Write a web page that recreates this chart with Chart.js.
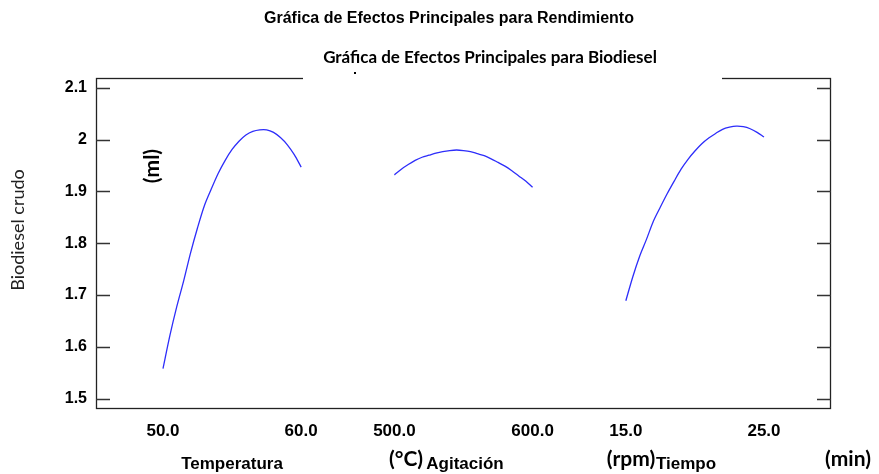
<!DOCTYPE html>
<html><head><meta charset="utf-8">
<script src="https://cdn.jsdelivr.net/npm/chart.js@4/dist/chart.umd.min.js"></script>
<style>html,body{margin:0;padding:0;background:#fff;overflow:hidden}#wrap{width:879px;height:474px;position:relative}</style>
</head><body><div id="wrap"><canvas id="c"></canvas></div>
<script>
// ---------- data ----------
const mainTitle = 'Gráfica de Efectos Principales para Rendimiento';
const subTitle = 'Gráfica de Efectos Principales para Biodiesel';
const yTitle = 'Biodiesel crudo';
const yUnit = '(ml)';
const factorNames = ['Temperatura', 'Agitación', 'Tiempo'];
const factorUnits = ['(°C)', '(rpm)', '(min)'];
const xTickLabels = ['50.0', '60.0', '500.0', '600.0', '15.0', '25.0'];
const yTickValues = [1.5, 1.6, 1.7, 1.8, 1.9, 2.0, 2.1];
const yTickLabels = ['1.5', '1.6', '1.7', '1.8', '1.9', '2', '2.1'];

const temperatura = [50, 50.5, 51, 51.5, 52, 52.5, 53, 53.5, 54, 54.5, 55, 55.5, 56, 56.5, 57, 57.5, 58, 58.5, 59, 59.5, 60];
const biodieselTemperatura = [1.558, 1.622, 1.678, 1.728, 1.782, 1.830, 1.873, 1.905, 1.935, 1.960, 1.981, 1.997, 2.009, 2.016, 2.019, 2.019, 2.014, 2.004, 1.990, 1.971, 1.947];

const agitacion = [500, 505, 510, 515, 520, 525, 530, 535, 540, 545, 550, 555, 560, 565, 570, 575, 580, 585, 590, 595, 600];
const biodieselAgitacion = [1.932, 1.943, 1.952, 1.960, 1.966, 1.970, 1.974, 1.977, 1.979, 1.980, 1.979, 1.977, 1.973, 1.969, 1.963, 1.956, 1.949, 1.940, 1.930, 1.920, 1.908];

const tiempo = [15, 15.5, 16, 16.5, 17, 17.5, 18, 18.5, 19, 19.5, 20, 20.5, 21, 21.5, 22, 22.5, 23, 23.5, 24, 24.5, 25];
const biodieselTiempo = [1.689, 1.735, 1.775, 1.808, 1.843, 1.870, 1.896, 1.920, 1.943, 1.962, 1.978, 1.992, 2.003, 2.012, 2.020, 2.024, 2.026, 2.025, 2.021, 2.014, 2.005];

const factorRanges = [[50, 60], [500, 600], [15, 25]];

// ---------- layout of the combined x axis (panel units) ----------
const segStart = [4.85, 21.6, 38.35];
const segWidth = 10;
const xMax = 53.2;
const toPanel = (i, v) => segStart[i] + (v - factorRanges[i][0]) / (factorRanges[i][1] - factorRanges[i][0]) * segWidth;
const xTickPositions = [];
segStart.forEach(s => { xTickPositions.push(s, s + segWidth); });

const series = [[temperatura, biodieselTemperatura], [agitacion, biodieselAgitacion], [tiempo, biodieselTiempo]];
const datasets = series.map(([xs, ys], i) => ({
  label: factorNames[i],
  data: xs.map((x, k) => ({ x: toPanel(i, x), y: ys[k] })),
  borderColor: 'rgb(45,45,250)',
  borderWidth: 1.3,
  pointRadius: 0,
  tension: 0.3,
  fill: false
}));

const decor = {
  id: 'decor',
  afterDraw(chart) {
    const ctx = chart.ctx, a = chart.chartArea, y = chart.scales.y;
    ctx.save();
    // frame
    ctx.strokeStyle = '#222'; ctx.lineWidth = 1.3;
    ctx.strokeRect(Math.round(a.left) + 0.5, Math.round(a.top) + 0.5, Math.round(a.right - a.left) - 1, Math.round(a.bottom - a.top));
    // inward tick marks on both sides
    ctx.strokeStyle = '#333'; ctx.lineWidth = 1.5;
    yTickValues.forEach(v => {
      const py = Math.round(y.getPixelForValue(v)) + 0.5;
      ctx.beginPath(); ctx.moveTo(a.left, py); ctx.lineTo(a.left + 14, py); ctx.stroke();
      ctx.beginPath(); ctx.moveTo(a.right - 14, py); ctx.lineTo(a.right, py); ctx.stroke();
    });
    // white box of the overlaid title
    ctx.fillStyle = '#fff';
    ctx.fillRect(303, 68, 419, 14);
    ctx.fillStyle = '#000';
    ctx.fillRect(354, 72, 2, 2);
    // titles
    ctx.fillStyle = '#000';
    ctx.textAlign = 'center'; ctx.textBaseline = 'middle';
    ctx.font = 'bold 16px "Liberation Sans", Arial, sans-serif';
    ctx.fillText(mainTitle, 449, 19);
    ctx.font = 'bold 17px Lato, "Open Sans", sans-serif';
    ctx.fillText(subTitle, 490, 58);
    // factor names and units
    ctx.font = 'bold 17px "Liberation Sans", Arial, sans-serif';
    const nameX = [232, 465, 686];
    factorNames.forEach((n, i) => ctx.fillText(n, nameX[i], 464));
    ctx.font = 'bold 21px Lato, "Open Sans", sans-serif';
    const unitX = [406, 631, 848];
    factorUnits.forEach((u, i) => ctx.fillText(u, unitX[i], 459));
    // y title and unit
    ctx.save();
    ctx.translate(18, 230); ctx.rotate(-Math.PI / 2);
    ctx.font = '18px Lato, "Open Sans", sans-serif'; ctx.fillStyle = '#222';
    ctx.fillText(yTitle, 0, 0);
    ctx.restore();
    ctx.save();
    ctx.translate(152, 166); ctx.rotate(-Math.PI / 2);
    ctx.font = 'bold 21px Lato, "Open Sans", sans-serif'; ctx.fillStyle = '#000';
    ctx.fillText(yUnit, 0, 0);
    ctx.restore();
    ctx.restore();
  }
};

new Chart(document.getElementById('c'), {
  type: 'line',
  data: { datasets },
  options: {
    responsive: true, maintainAspectRatio: false, animation: false,
    layout: { padding: { top: 78, right: 48, left: 0, bottom: 0 } },
    plugins: { legend: { display: false }, tooltip: { enabled: false }, title: { display: false } },
    scales: {
      x: {
        type: 'linear', min: 0, max: xMax,
        afterBuildTicks: s => { s.ticks = xTickPositions.map(v => ({ value: v })); },
        afterFit: s => { s.height = 66; },
        grid: { display: false, drawTicks: false }, border: { display: false },
        ticks: { autoSkip: false, maxRotation: 0, padding: 13, color: '#000',
          font: { family: '"Liberation Sans", Arial, sans-serif', weight: 'bold', size: 17 },
          callback: (v, i) => xTickLabels[i] }
      },
      y: {
        type: 'linear', min: 1.482, max: 2.119,
        afterBuildTicks: s => { s.ticks = yTickValues.map(v => ({ value: v })); },
        afterFit: s => { s.width = 96; },
        grid: { display: false, drawTicks: false }, border: { display: false },
        ticks: { padding: 9, color: '#000',
          font: { family: '"Liberation Sans", Arial, sans-serif', weight: 'bold', size: 16 },
          callback: (v, i) => yTickLabels[i] }
      }
    }
  },
  plugins: [decor]
});
</script></body></html>
